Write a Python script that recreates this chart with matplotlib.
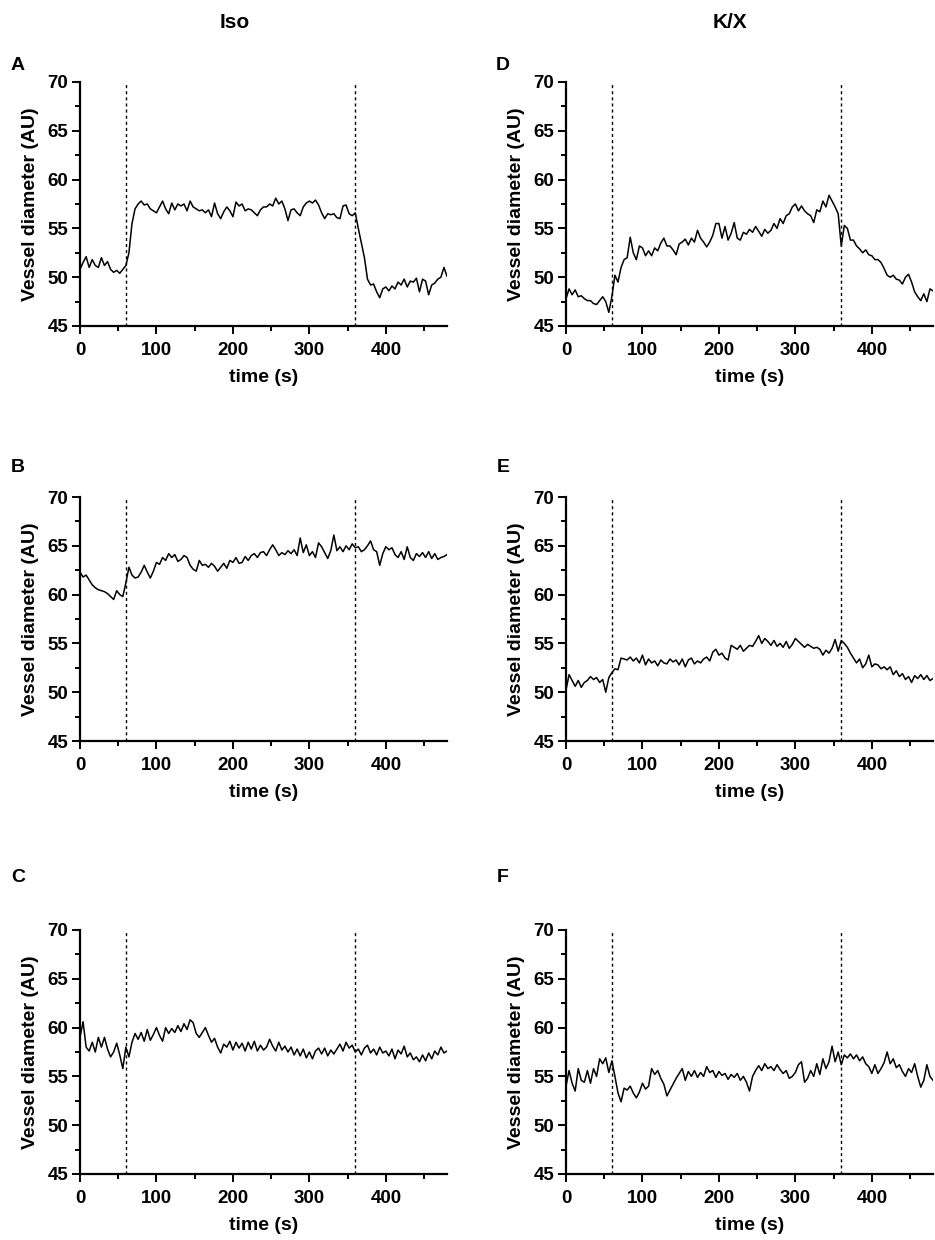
import numpy as np
import matplotlib
matplotlib.use("Agg")
import matplotlib.pyplot as plt
from matplotlib.ticker import MultipleLocator

plt.rcParams['font.family'] = ['Liberation Sans', 'DejaVu Sans']
plt.rcParams['font.weight'] = 'bold'

# sampling grid of the traces (s), one reading every 4 s
t = np.arange(0, 481, 4)

# vessel diameter traces (AU)
trace_A = [
    50.8, 51.5, 52.1, 51.0, 51.8, 51.2, 51.0, 52.0, 51.2, 51.6,
    50.8, 50.5, 50.7, 50.4, 50.8, 51.2, 52.5, 55.5, 57.0, 57.5,
    57.8, 57.4, 57.5, 57.0, 56.8, 56.6, 57.2, 57.8, 57.0, 56.5,
    57.6, 56.9, 57.5, 57.3, 57.5, 56.8, 57.8, 57.2, 57.0, 56.8,
    56.9, 56.6, 56.9, 56.2, 57.6, 56.5, 56.0, 56.7, 57.2, 56.8,
    56.2, 57.7, 57.3, 57.5, 56.8, 57.0, 56.9, 56.6, 56.3, 56.9,
    57.2, 57.2, 57.5, 57.3, 58.1, 57.5, 57.8, 57.0, 55.8, 56.9,
    57.0, 56.6, 56.3, 57.2, 57.6, 57.8, 57.6, 57.9, 57.4, 56.6,
    56.0, 56.5, 56.4, 56.5, 56.1, 56.0, 57.3, 57.4, 56.5, 56.3,
    56.6, 55.0, 53.5, 52.0, 49.8, 49.2, 49.3, 48.5, 47.9, 48.8,
    49.0, 48.6, 49.1, 48.8, 49.5, 49.2, 49.8, 49.0, 49.6, 49.5,
    49.9, 48.5, 49.8, 49.6, 48.2, 49.2, 49.4, 49.8, 50.0, 51.0,
    50.1]

trace_B = [
    62.3, 61.8, 62.0, 61.5, 61.0, 60.7, 60.5, 60.4, 60.3, 60.1,
    59.8, 59.5, 60.4, 60.0, 59.8, 61.2, 62.8, 62.0, 61.7, 61.8,
    62.3, 63.0, 62.3, 61.7, 62.4, 63.3, 63.1, 63.8, 63.5, 64.2,
    63.8, 64.1, 63.4, 63.6, 64.0, 63.8, 63.0, 62.6, 62.4, 63.5,
    63.0, 63.1, 62.8, 63.2, 62.9, 62.4, 62.8, 63.2, 62.7, 63.5,
    63.3, 63.8, 63.2, 63.3, 63.9, 63.5, 64.0, 64.2, 63.8, 64.3,
    64.4, 64.0, 64.6, 65.1, 64.6, 64.0, 64.3, 64.1, 64.5, 64.2,
    64.6, 64.0, 65.8, 64.3, 65.1, 64.0, 64.4, 63.8, 65.3, 64.9,
    64.3, 63.7, 64.5, 66.1, 64.5, 64.9, 64.4, 65.0, 64.6, 65.2,
    64.8, 64.9, 64.4, 64.6, 65.0, 65.5, 64.6, 64.4, 63.0, 64.2,
    64.9, 64.6, 64.8, 64.1, 63.8, 64.4, 63.6, 64.9, 63.8, 63.5,
    64.2, 63.9, 64.3, 63.8, 64.4, 63.7, 64.2, 63.6, 63.8, 63.9,
    64.1]

trace_C = [
    59.0, 60.6, 58.0, 57.6, 58.5, 57.5, 59.0, 58.0, 59.0, 57.8,
    57.0, 57.5, 58.4, 57.2, 55.8, 58.0, 57.0, 58.5, 59.4, 58.8,
    59.5, 58.6, 59.8, 58.7, 59.3, 60.0, 59.2, 58.6, 60.0, 59.4,
    59.9, 59.5, 60.2, 59.6, 60.4, 59.8, 60.8, 60.5, 59.4, 59.0,
    59.5, 60.0, 59.2, 58.5, 58.9, 58.0, 57.4, 58.3, 58.0, 58.6,
    57.7, 58.5, 57.9, 58.4, 57.6, 58.5, 57.8, 58.6, 57.6, 58.2,
    57.7, 58.0, 58.8, 58.1, 57.6, 58.5, 57.7, 58.1, 57.5, 58.0,
    57.2, 57.8, 57.1, 57.8, 56.9, 57.5, 56.8, 57.6, 57.9, 57.3,
    57.9, 57.1, 57.7, 57.3, 57.8, 58.3, 57.6, 58.5, 57.9, 58.2,
    57.5, 57.8, 57.2, 57.9, 58.2, 57.4, 57.8, 57.2, 58.0, 57.4,
    57.6, 57.1, 57.8, 56.8, 57.7, 57.3, 58.1, 57.0, 57.4, 56.7,
    57.0, 56.5, 57.2, 56.6, 57.4, 56.8, 57.6, 57.2, 58.0, 57.4,
    57.6]

trace_D = [
    47.8, 48.8, 48.2, 48.7, 48.0, 48.1, 47.8, 47.6, 47.6, 47.3,
    47.2, 47.6, 48.0, 47.5, 46.4, 48.0, 50.2, 49.5, 51.0, 51.8,
    52.0, 54.1, 52.5, 51.8, 53.2, 53.0, 52.2, 52.7, 52.2, 53.0,
    52.7, 53.5, 54.0, 53.2, 53.2, 52.8, 52.3, 53.4, 53.6, 53.9,
    53.3, 54.0, 53.6, 54.8, 54.0, 53.6, 53.1, 53.6, 54.3, 55.5,
    55.5, 54.0, 55.2, 53.8, 54.5, 55.6, 54.0, 53.8, 54.6, 54.4,
    54.9, 54.6, 55.2, 54.7, 54.2, 54.9, 54.5, 54.8, 55.5, 55.0,
    56.0, 55.5, 56.3, 56.5, 57.2, 57.5, 56.8, 57.3, 56.8, 56.5,
    56.3, 55.6, 56.9, 56.7, 57.8, 57.2, 58.4, 57.8, 57.2, 56.5,
    53.2, 55.3, 55.0, 53.8, 53.8, 53.2, 52.9, 52.5, 52.8, 52.3,
    52.2, 51.8, 51.8, 51.5, 50.9, 50.2, 50.0, 50.2, 49.8, 49.7,
    49.3, 50.0, 50.3, 49.5, 48.5, 48.0, 47.6, 48.3, 47.5, 48.8,
    48.6]

trace_E = [
    50.2, 51.8, 51.2, 50.6, 51.2, 50.5, 51.0, 51.2, 51.6, 51.3,
    51.5, 51.0, 51.3, 50.0, 51.5, 52.0, 52.4, 52.3, 53.5, 53.4,
    53.3, 53.6, 53.2, 53.5, 53.0, 53.8, 52.8, 53.4, 53.0, 53.2,
    52.7, 53.3, 53.0, 52.9, 53.4, 53.1, 53.3, 52.8, 53.4, 52.6,
    53.3, 53.5, 52.9, 53.2, 53.0, 53.4, 53.6, 53.2, 54.1, 54.4,
    53.8, 54.0, 53.5, 53.3, 54.8, 54.6, 54.4, 54.8, 54.2, 54.5,
    54.8, 54.7, 55.2, 55.8, 55.0, 55.5, 55.2, 54.8, 55.3, 54.7,
    55.0, 54.6, 55.2, 54.5, 54.9, 55.5, 55.2, 54.9, 54.6, 54.9,
    54.7, 54.5, 54.6, 54.4, 53.8, 54.3, 54.0, 54.5, 55.4, 54.2,
    55.3, 55.0, 54.6, 54.0, 53.5, 53.0, 53.4, 52.5, 52.9, 53.8,
    52.6, 52.9, 52.8, 52.4, 52.6, 52.3, 52.6, 51.8, 52.2, 51.6,
    51.9, 51.3, 51.6, 51.0, 51.7, 51.4, 51.8, 51.3, 51.7, 51.2,
    51.4]

trace_F = [
    54.0, 55.6, 54.3, 53.5, 55.8, 54.6, 54.4, 55.6, 54.3, 55.8,
    55.0, 56.8, 56.3, 56.9, 55.4, 56.6, 55.0, 53.3, 52.4, 53.8,
    53.6, 54.0, 53.3, 52.8, 53.4, 54.3, 53.7, 54.0, 55.8, 55.2,
    55.6, 54.8, 54.2, 53.0, 53.6, 54.2, 54.8, 55.3, 55.8, 54.6,
    55.5, 55.0, 55.6, 54.9, 55.4, 55.0, 56.0, 55.4, 55.6, 54.9,
    55.5, 55.1, 55.3, 54.7, 55.2, 54.9, 55.3, 54.6, 55.0, 54.4,
    53.5, 55.0, 55.6, 56.1, 55.6, 56.3, 55.8, 56.0, 55.6, 56.2,
    55.7, 55.3, 55.6, 54.8, 55.0, 55.4, 56.2, 56.5, 54.4, 54.8,
    55.6, 55.0, 56.3, 55.2, 56.8, 55.8, 56.5, 58.1, 56.5, 57.5,
    56.2, 57.2, 56.9, 57.3, 56.8, 57.2, 56.6, 57.0, 56.3, 56.0,
    55.3, 56.2, 55.3, 55.8, 56.4, 57.5, 56.3, 56.8, 55.9, 56.2,
    55.5, 55.0, 55.8, 55.4, 56.3, 55.0, 53.9, 54.6, 56.2, 55.0,
    54.6]

stim_times = [60, 360]
panel_letters = ["A", "B", "C", "D", "E", "F"]
traces = [trace_A, trace_B, trace_C, trace_D, trace_E, trace_F]
column_titles = ["Iso", "K/X"]

fig = plt.figure(figsize=(9.35, 12.4), dpi=100)

W, H = 935, 1240
col_left = [80, 566]
row_top = [82, 497, 930]
letter_y = [66, 468, 877]
ax_w, ax_h = 367, 244

for i in range(6):
    col = i // 3
    row = i % 3
    x0 = col_left[col] / W
    y0 = 1 - (row_top[row] + ax_h) / H
    ax = fig.add_axes([x0, y0, ax_w / W, ax_h / H])

    ax.plot(t, traces[i], color="black", lw=1.1)
    for s in stim_times:
        ax.axvline(s, color="black", lw=1.0, ls=(0, (2.2, 2.2)))

    ax.set_xlim(0, 480)
    ax.set_ylim(45, 70)
    ax.xaxis.set_major_locator(MultipleLocator(100))
    ax.xaxis.set_minor_locator(MultipleLocator(50))
    ax.yaxis.set_major_locator(MultipleLocator(5))
    ax.yaxis.set_minor_locator(MultipleLocator(2.5))

    for side in ["top", "right"]:
        ax.spines[side].set_visible(False)
    for side in ["left", "bottom"]:
        ax.spines[side].set_linewidth(1.6)

    ax.tick_params(which="major", length=5.5, width=1.4, labelsize=13.5, direction="out")
    ax.tick_params(which="minor", length=3.5, width=1.4, direction="out")
    ax.tick_params(axis="x", which="major", pad=6)
    ax.tick_params(axis="y", which="major", pad=3)
    for lab in ax.get_xticklabels() + ax.get_yticklabels():
        lab.set_fontweight("bold")

    ax.set_xlabel("time (s)", fontsize=14, fontweight="bold", labelpad=7)
    ax.set_ylabel("Vessel diameter (AU)", fontsize=14, fontweight="bold", labelpad=6)

    # panel letter
    lx = 18 if col == 0 else 503
    fig.text(lx / W, 1 - letter_y[row] / H, panel_letters[i], fontsize=14,
             fontweight="bold", ha="center", va="center")

fig.text(235 / W, 1 - 22 / H, column_titles[0], fontsize=15, fontweight="bold",
         ha="center", va="center")
fig.text(730 / W, 1 - 22 / H, column_titles[1], fontsize=15, fontweight="bold",
         ha="center", va="center")

fig.savefig("out.png", dpi=100)
